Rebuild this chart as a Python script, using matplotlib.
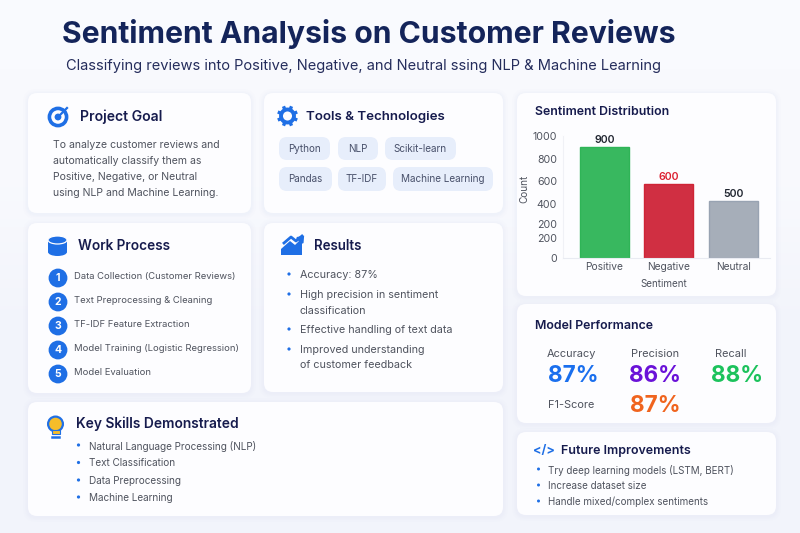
import numpy as np
import matplotlib
matplotlib.use("Agg")
import matplotlib.pyplot as plt
from matplotlib.patches import FancyBboxPatch, Circle, Ellipse, Polygon, Rectangle

# ---- data ----
sentiments = ["Positive", "Negative", "Neutral"]
counts = [900, 600, 500]
count_colors = ["#202530", "#dc1f30", "#202530"]
bar_colors = ["#38b85f", "#d02f42", "#a6aeb9"]
bar_edges = ["#2fb457", "#cf2435", "#98a3b2"]
# the reference axis is irregular: it prints 200 twice and is not linear
tick_values = [0, 175, 298, 474, 624, 800, 1000]
tick_labels = ["0", "200", "200", "400", "600", "800", "1000"]
scale_values = [0, 500, 600, 900, 1000]
scale_heights = [0, 57, 74, 111, 122]

goal_lines = ["To analyze customer reviews and", "automatically classify them as",
              "Positive, Negative, or Neutral", "using NLP and Machine Learning."]
tools = ["Python", "NLP", "Scikit-learn", "Pandas", "TF-IDF", "Machine Learning"]
process_steps = ["Data Collection (Customer Reviews)", "Text Preprocessing & Cleaning",
                 "TF-IDF Feature Extraction", "Model Training (Logistic Regression)",
                 "Model Evaluation"]
result_lines = [("Accuracy: 87%", True), ("High precision in sentiment", True), ("classification", False),
                ("Effective handling of text data", True), ("Improved understanding", True),
                ("of customer feedback", False)]
skills = ["Natural Language Processing (NLP)", "Text Classification", "Data Preprocessing", "Machine Learning"]
metric_names = ["Accuracy", "Precision", "Recall", "F1-Score"]
metric_values = ["87%", "86%", "88%", "87%"]
metric_colors = ["#1a6fee", "#6a12d8", "#1cc25c", "#f0641e"]
future_items = ["Try deep learning models (LSTM, BERT)", "Increase dataset size", "Handle mixed/complex sentiments"]

# ---- layout (pixels) ----
FONT = "Inter"
BG = "#f3f5fb"
CARD = "#fdfdff"
NAVY = "#161b4d"
BODY = "#4f535e"
BLUE = "#1f6fe5"

fig = plt.figure(figsize=(8.0, 5.33), dpi=100, facecolor=BG)
bg = fig.add_axes([0, 0, 1, 1])
bg.imshow(np.array([[0.0], [0.16], [1.0], [1.0]]), extent=(0, 800, 533, 0), aspect="auto", zorder=0,
          cmap=matplotlib.colors.LinearSegmentedColormap.from_list("page", ["#f9fafe", "#f2f4fb"]),
          interpolation="bilinear")
bg.set_xlim(0, 800)
bg.set_ylim(533, 0)
bg.axis("off")


def px(size):
    return size * 0.72


def txt(x, y, s, size, color=BODY, weight="normal", ha="left", **kw):
    return bg.text(x, y + 1, s, fontsize=px(size), color=color, fontweight=weight, ha=ha, va="center",
                   family=FONT, **kw)


def card(x0, y0, x1, y1):
    for grow, alpha in ((5, .10), (3, .14), (1.5, .2)):
        bg.add_patch(FancyBboxPatch((x0 - grow, y0 - grow + 1), x1 - x0 + 2 * grow, y1 - y0 + 2 * grow,
                                    boxstyle="round,pad=0,rounding_size=%g" % (9 + grow),
                                    fc="#e6eaf6", ec="none", alpha=alpha, zorder=1))
    bg.add_patch(FancyBboxPatch((x0, y0), x1 - x0, y1 - y0, boxstyle="round,pad=0,rounding_size=9",
                                fc=CARD, ec="none", zorder=2))


for c in [(28, 93, 251, 213), (264, 93, 503, 213), (28, 223, 251, 393), (264, 223, 503, 392),
          (28, 402, 503, 516), (517, 93, 776, 296), (517, 304, 776, 423), (517, 432, 776, 515)]:
    card(*c)

Z = 5
txt(62, 33, "Sentiment Analysis on Customer Reviews", 30.15, "#14245a", "bold", zorder=Z)
txt(66, 65, "Classifying reviews into Positive, Negative, and Neutral ssing NLP & Machine Learning", 14.65,
    "#252d5c", zorder=Z)

# Project Goal
bg.add_patch(Circle((58, 117), 8.6, fc="none", ec=BLUE, lw=2.6, zorder=Z))
bg.add_patch(Circle((58, 117), 3.4, fc=BLUE, ec="none", zorder=Z))
bg.plot([58, 67], [117, 108], color=BLUE, lw=1.6, zorder=Z)
txt(80, 116, "Project Goal", 14, NAVY, "semibold", zorder=Z)
for y, s in zip([144, 159.5, 175.5, 192], goal_lines):
    txt(53, y, s, 10.5, zorder=Z)

# Tools
bg.add_patch(Circle((287.5, 116), 6.5, fc="none", ec=BLUE, lw=2.8, zorder=Z))
for a in np.arange(0, 360, 45):
    r = np.radians(a + 22.5)
    bg.plot([287.5 + 7.5 * np.cos(r), 287.5 + 10.5 * np.cos(r)], [116 + 7.5 * np.sin(r), 116 + 10.5 * np.sin(r)],
            color=BLUE, lw=2.4, solid_capstyle="butt", zorder=Z)
txt(306, 116, "Tools & Technologies", 13.3, NAVY, "semibold", zorder=Z)
pills = [(279, 330, 137, 160), (338, 378, 137, 160), (385, 456, 137, 160),
         (279, 332, 167, 191), (338, 386, 167, 191), (393, 493, 167, 191)]
for (x0, x1, y0, y1), s in zip(pills, tools):
    bg.add_patch(FancyBboxPatch((x0, y0), x1 - x0, y1 - y0, boxstyle="round,pad=0,rounding_size=8",
                                fc="#e7eefb", ec="none", zorder=3))
    txt((x0 + x1) / 2, (y0 + y1) / 2 - 1, s, 9.9, "#48506a", ha="center", zorder=Z)

# Work process
bg.add_patch(Rectangle((48, 240), 19, 12, fc=BLUE, ec="none", zorder=Z))
bg.add_patch(Ellipse((57.5, 252), 19, 8, fc=BLUE, ec="none", zorder=Z))
bg.add_patch(Ellipse((57.5, 240), 19, 8, fc=BLUE, ec=CARD, lw=.9, zorder=Z))
txt(78, 245, "Work Process", 13.6, NAVY, "semibold", zorder=Z)
for i, (y, s) in enumerate(zip([278, 302, 326, 350, 374], process_steps)):
    bg.add_patch(Circle((58, y), 9.4, fc=BLUE, ec="none", zorder=Z))
    txt(58, y - .7, str(i + 1), 10.5, "white", "bold", ha="center", zorder=Z + 1)
    txt(74, y - 2.5, s, 9.45, zorder=Z)

# Results
bg.add_patch(Polygon([(281, 255), (281, 249), (290, 241), (295, 245), (300, 240), (302, 242), (302, 255)],
                     fc=BLUE, ec="none", zorder=Z))
bg.plot([284, 291, 296, 302], [243, 237, 241, 236], color=BLUE, lw=2, zorder=Z)
bg.add_patch(Polygon([(297, 238), (303, 237), (302.5, 243)], fc=BLUE, ec=BLUE, lw=1.5, zorder=Z))
txt(314, 245, "Results", 13.4, NAVY, "semibold", zorder=Z)
for y, (s, b) in zip([274, 294, 310, 329, 349, 364], result_lines):
    if b:
        bg.add_patch(Circle((289, y), 1.6, fc=BLUE, ec="none", zorder=Z))
    txt(300, y, s, 10.75, zorder=Z)

# Key skills
bg.add_patch(Circle((55.5, 424), 7.4, fc="#f6bd2a", ec=BLUE, lw=1.6, zorder=Z))
bg.add_patch(Rectangle((51.5, 430), 8, 4, fc="#f6bd2a", ec=BLUE, lw=.8, zorder=Z))
bg.plot([52, 59], [436.5, 436.5], color=BLUE, lw=1.8, zorder=Z)
txt(76, 423, "Key Skills Demonstrated", 13.8, NAVY, "semibold", zorder=Z)
for y, s in zip([445, 462.5, 480, 497], skills):
    bg.add_patch(Circle((78.5, y), 1.6, fc=BLUE, ec="none", zorder=Z))
    txt(89, y, s, 9.95, zorder=Z)

# Model performance
txt(535, 325, "Model Performance", 12.4, NAVY, "semibold", zorder=Z)
for (x, y), s in zip([(571, 353), (655, 353), (731, 353), (571, 404)], metric_names):
    txt(x, y, s, 11, ha="center", zorder=Z)
for (x, y), s, c in zip([(573, 375.5), (655, 375), (737, 375), (655, 405)], metric_values, metric_colors):
    txt(x, y, s, 22.5, c, "bold", ha="center", zorder=Z)

# Future improvements
txt(544, 450, "</>", 12.5, BLUE, "bold", ha="center", zorder=Z)
txt(561, 450, "Future Improvements", 12.45, NAVY, "semibold", zorder=Z)
for y, s in zip([469, 485, 501], future_items):
    bg.add_patch(Circle((538.5, y), 1.5, fc=BLUE, ec="none", zorder=Z))
    txt(548, y, s, 9.8, zorder=Z)

# Sentiment distribution chart
txt(535, 111, "Sentiment Distribution", 12.35, NAVY, "semibold", zorder=Z)
W, H = 800.0, 533.0
ax = fig.add_axes([563 / W, 1 - 258 / H, (770 - 563) / W, 122 / H], facecolor="none")


def to_height(v):
    return np.interp(v, scale_values, scale_heights)


def from_height(h):
    return np.interp(h, scale_heights, scale_values)


ax.set_yscale("function", functions=(to_height, from_height))
positions = np.arange(len(sentiments))
bars = ax.bar(positions, counts, width=0.76, color=bar_colors, edgecolor=bar_edges, linewidth=1)
ax.set_xlim(-0.64, 2.57)
ax.set_ylim(0, 1000)
for b, v, c in zip(bars, counts, count_colors):
    ax.annotate(str(v), (b.get_x() + b.get_width() / 2, v), xytext=(0, 5.2), textcoords="offset points",
                ha="center", va="center", fontsize=px(10.6), color=c, family=FONT, fontweight="semibold",
                annotation_clip=False)
ax.set_xticks(positions, sentiments, fontsize=px(10.2), color=BODY, family=FONT)
ax.set_yticks(tick_values, tick_labels, fontsize=px(10.6), color=BODY, family=FONT)
ax.minorticks_off()
ax.tick_params(axis="both", length=0)
ax.tick_params(axis="x", pad=px(4))
ax.tick_params(axis="y", pad=px(6))
ax.set_xlabel("Sentiment", fontsize=px(9.8), color=BODY, family=FONT, va="center")
ax.set_ylabel("Count", fontsize=px(10), color=BODY, family=FONT, va="center")
ax.xaxis.set_label_coords(101 / 207, -26 / 122)
ax.yaxis.set_label_coords(-39 / 207, 69 / 122)
for s in ("top", "right"):
    ax.spines[s].set_visible(False)
ax.spines["left"].set_color("#f0f1f6")
ax.spines["bottom"].set_color("#e9ebf2")

fig.savefig("out.png", dpi=100, facecolor=BG)
